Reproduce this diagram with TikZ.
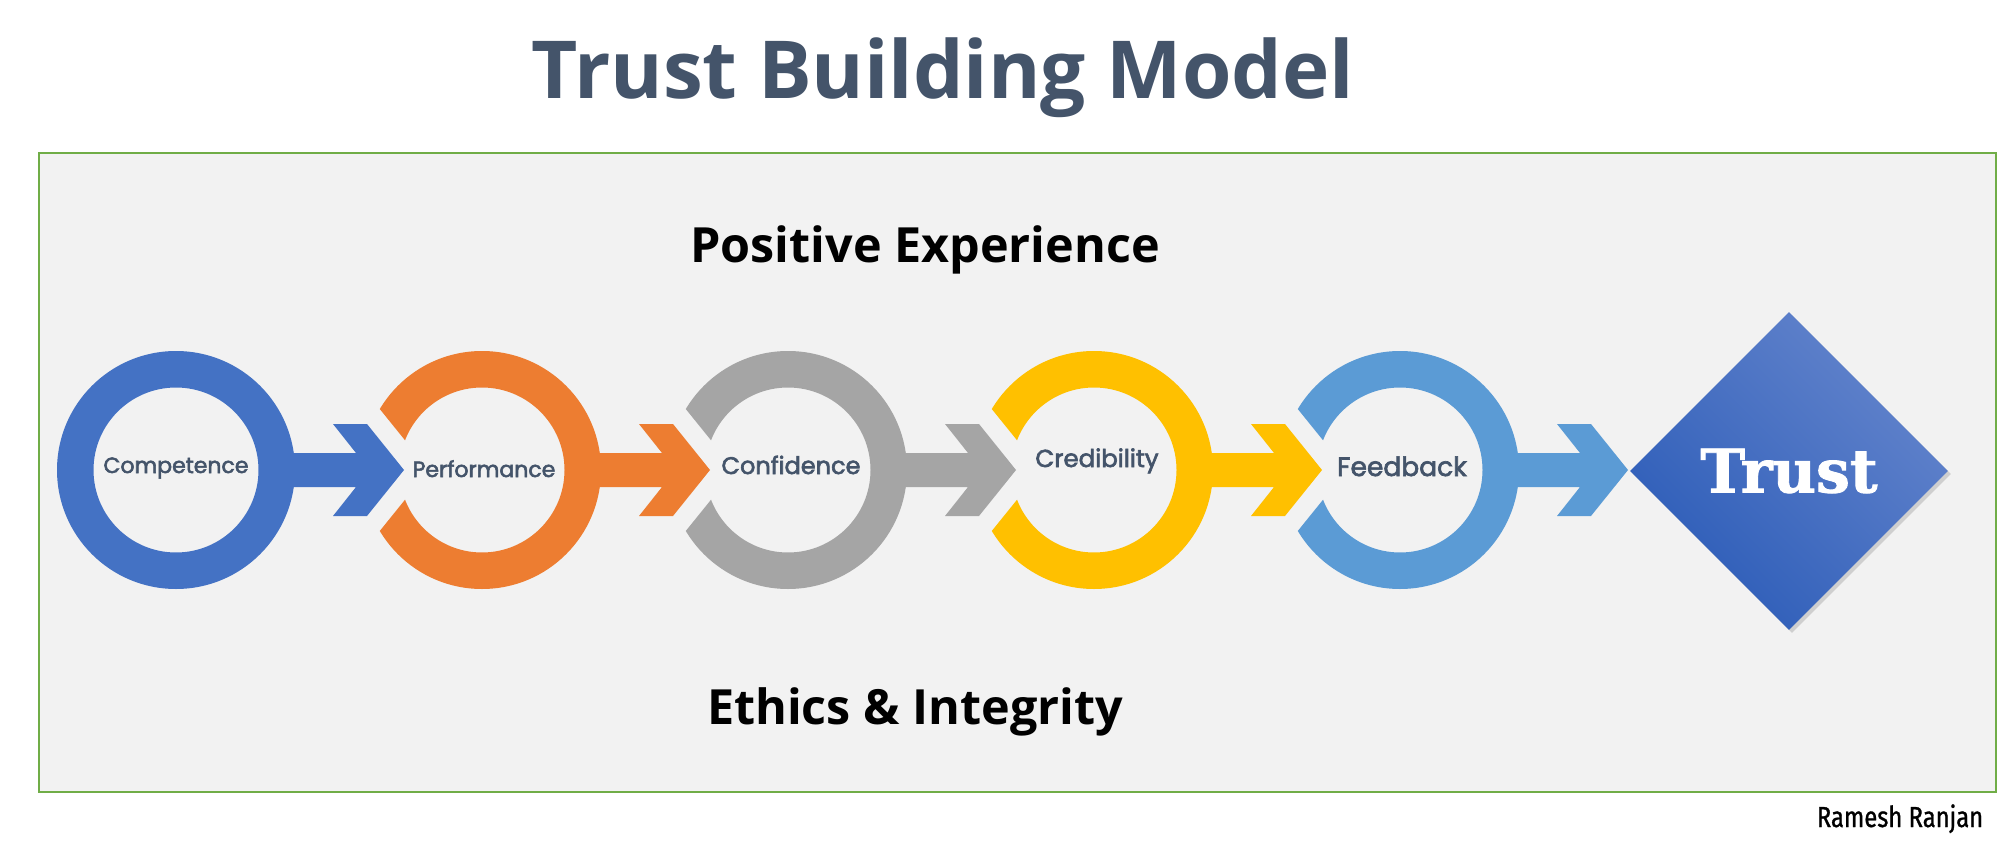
\documentclass[tikz,border=0pt]{standalone}
\usepackage{fontspec}
\usepackage{tikz}
\usepackage{xcolor}
\usetikzlibrary{shapes.geometric,shadows}

\setmainfont{Open Sans}
\newfontfamily\ringfont[FakeBold=2.5]{Poppins}
\newfontfamily\trustfont[FakeBold=1.5]{DejaVu Serif}
\newfontfamily\signfont[FakeStretch=0.82, FakeBold=1]{Fira Sans}

\definecolor{ringblue}{HTML}{4472C4}
\definecolor{ringorange}{HTML}{ED7D31}
\definecolor{ringgray}{HTML}{A5A5A5}
\definecolor{ringgold}{HTML}{FFC000}
\definecolor{ringsky}{HTML}{5B9BD5}
\definecolor{slate}{HTML}{44546A}
\definecolor{panelgray}{HTML}{F2F2F2}
\definecolor{framegreen}{HTML}{70AD47}
\definecolor{trustlight}{HTML}{6384CC}
\definecolor{trustdark}{HTML}{2C5CB8}

\tikzset{
  pics/ring/.style={code={
    \fill[#1, even odd rule] (0,0) circle[radius=119] (0,0) circle[radius=82.5];}},
  pics/cutring/.style={code={
    \begin{scope}
      \clip (-53,0) -- (-166,-140) -- (150,-140) -- (150,140) -- (-166,140) -- cycle;
      \fill[#1, even odd rule] (0,0) circle[radius=119] (0,0) circle[radius=82.5];
    \end{scope}}},
  pics/chevron/.style={code={
    \fill[#1] (100,-17) -- (180,-17) -- (157,-46) -- (191,-46) -- (228,0)
      -- (191,46) -- (157,46) -- (180,17) -- (100,17) -- cycle;}},
  ringlabel/.style={anchor=base, text=slate, font=\ringfont\fontsize{#1}{#1}\selectfont},
  ringlabel/.default=22,
  heading/.style={anchor=base, font=\bfseries\fontsize{48.5}{50}\selectfont}
}

\begin{document}
\begin{tikzpicture}[x=1pt, y=-1pt]
  \useasboundingbox[fill=white] (0,0) rectangle (2000,853);

  % Title and panel
  \node[anchor=base, text=slate, font=\bfseries\fontsize{80}{84}\selectfont] (title) at (943,99) {Trust Building Model};
  \draw[framegreen, line width=2pt, fill=panelgray] (39,153) rectangle (1996,792);

  % Ring centres
  \coordinate (comp) at (176,470);
  \coordinate (perf) at (482,470);
  \coordinate (conf) at (788,470);
  \coordinate (cred) at (1094,470);
  \coordinate (feed) at (1400,470);

  % Rings
  \pic at (comp) {ring=ringblue};
  \pic at (perf) {cutring=ringorange};
  \pic at (conf) {cutring=ringgray};
  \pic at (cred) {cutring=ringgold};
  \pic at (feed) {cutring=ringsky};

  % Arrows between the rings
  \pic at (comp) {chevron=ringblue};
  \pic at (perf) {chevron=ringorange};
  \pic at (conf) {chevron=ringgray};
  \pic at (cred) {chevron=ringgold};
  \pic at (feed) {chevron=ringsky};

  % Ring labels
  \node[ringlabel] (competence) at (176,473) {Competence};
  \node[ringlabel] (performance) at (484,477) {Performance};
  \node[ringlabel=24] (confidence) at (791,474) {Confidence};
  \node[ringlabel=24.5] (credibility) at (1097,467) {Credibility};
  \node[ringlabel=26.5] (feedback) at (1402,476) {Feedback};

  % Goal
  \node[diamond, aspect=1, minimum size=318pt, inner sep=0pt,
        top color=trustlight, bottom color=trustdark, shading angle=-45,
        drop shadow={shadow xshift=3pt, shadow yshift=-3pt, opacity=0.3},
        text=white, font=\trustfont\bfseries\fontsize{60}{62}\selectfont] (trust) at (1789,471) {Trust};

  % Headings
  \node[heading] (positive) at (925,262) {Positive Experience};
  \node[heading] (ethics) at (915,724) {Ethics \& Integrity};

  % Signature
  \node[anchor=base, font=\signfont\fontsize{29}{30}\selectfont] (sign) at (1900,827) {Ramesh Ranjan};
\end{tikzpicture}
\end{document}
